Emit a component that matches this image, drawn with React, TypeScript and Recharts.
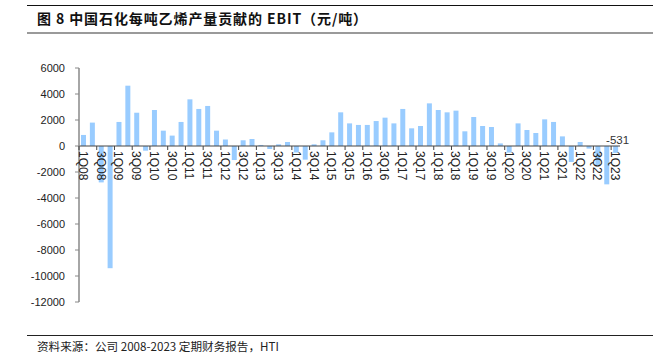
import React from "react";
import { BarChart, Bar, XAxis, YAxis, ReferenceLine, LabelList } from "recharts";

const quarters: string[] = [];
for (let y = 8; y <= 23; y++) {
  for (let q = 1; q <= 4; q++) {
    if (y === 23 && q > 1) break;
    quarters.push(`${q}Q${y < 10 ? "0" + y : y}`);
  }
}

const ebitValues = [
  850, 1800, -2800, -9400,
  1850, 4640, 2560, -360,
  2770, 1180, 800, 1850,
  3590, 2850, 3080, 1180,
  500, -1080, 440, 540,
  80, -230, 130, 310,
  -500, -1050, 130, 440,
  1050, 2590, 1740, 1620,
  1620, 1920, 2180, 1740,
  2850, 1360, 1540, 3280,
  2770, 2590, 2720, 1130,
  2230, 1540, 1460, 200,
  -510, 1740, 1230, 1000,
  2050, 1850, 740, -1230,
  310, -200, -1500, -2950,
  -531,
];

const yTicks = [6000, 4000, 2000, 0, -2000, -4000, -6000, -8000, -10000, -12000];

const data = quarters.map((q, i) => ({ q, v: ebitValues[i] }));

const W = 660;
const H = 358;
const X_AXIS_H = 20;
const M = { top: 68, right: 40, bottom: 56 - X_AXIS_H, left: 0 };
const Y_AXIS_W = 79;
const Y_MIN = -12000;
const Y_MAX = 6000;
const plotH = H - M.top - M.bottom - X_AXIS_H;
const plotW = W - M.left - M.right - Y_AXIS_W;
const band = plotW / data.length;
const yPx = (v: number) => M.top + (plotH * (Y_MAX - v)) / (Y_MAX - Y_MIN);
const zeroY = yPx(0);

const FONT = "'Liberation Sans', Arial, sans-serif";

const XTick = (props: any) => {
  const { x, payload } = props;
  return (
    <g>
      <line x1={x - band / 2} x2={x - band / 2} y1={zeroY} y2={zeroY + 4} stroke="#444" strokeWidth={1} />
      <text
        transform={`translate(${x - 0.5},${zeroY + 5}) rotate(90)`}
        textAnchor="start"
        dominantBaseline="central"
        fontSize={12}
        fontFamily={FONT}
        fill="#222"
      >
        {payload.value}
      </text>
    </g>
  );
};

const LastLabel = (props: any) => {
  const { x, width, index, value } = props;
  if (index !== data.length - 1) return null;
  return (
    <text
      x={Number(x) + Number(width) / 2 + 2}
      y={zeroY - 2}
      textAnchor="middle"
      fontSize={11.5}
      fontFamily={FONT}
      fill="#333"
    >
      {value}
    </text>
  );
};

export default function App() {
  return (
    <div
      style={{
        position: "absolute",
        left: 0,
        top: 0,
        width: W,
        height: H,
        background: "#fff",
        overflow: "hidden",
      }}
    >
      <div style={{ position: "absolute", left: 27, top: 5, width: 626, height: 1, background: "#111" }} />
      <div
        style={{
          position: "absolute",
          left: 37,
          top: 10,
          fontFamily: "'Noto Sans CJK SC', sans-serif",
          fontWeight: 700,
          fontSize: 14,
          letterSpacing: "0.9px",
          lineHeight: "17px",
          color: "#111",
          whiteSpace: "nowrap",
        }}
      >
        图 8 中国石化每吨乙烯产量贡献的 EBIT（元/吨）
      </div>
      <div style={{ position: "absolute", left: 27, top: 32, width: 626, height: 2, background: "#9a9a9a" }} />
      <div style={{ position: "absolute", left: 0, top: 0 }}>
        <BarChart width={W} height={H} data={data} margin={M} barSize={5}>
          <XAxis
            dataKey="q"
            type="category"
            height={X_AXIS_H}
            interval={1}
            axisLine={false}
            tickLine={false}
            tick={<XTick />}
          />
          <YAxis
            width={Y_AXIS_W}
            domain={[Y_MIN, Y_MAX]}
            ticks={yTicks}
            type="number"
            allowDataOverflow
            axisLine={{ stroke: "#888", strokeWidth: 1.5 }}
            tickLine={{ stroke: "#888" }}
            tickSize={4}
            tickMargin={10}
            tick={{ fontSize: 11, fontFamily: FONT, fill: "#222" }}
          />
          <Bar dataKey="v" fill="#99CCFF" isAnimationActive={false}>
            <LabelList dataKey="v" content={<LastLabel />} />
          </Bar>
          <ReferenceLine y={0} stroke="#444" strokeWidth={1} />
        </BarChart>
      </div>
      <div style={{ position: "absolute", left: 27, top: 335, width: 626, height: 1, background: "#222" }} />
      <div
        style={{
          position: "absolute",
          left: 37,
          top: 339,
          fontFamily: "'Noto Sans CJK SC', sans-serif",
          fontSize: 11.6,
          lineHeight: "14px",
          color: "#222",
          whiteSpace: "nowrap",
        }}
      >
        资料来源：公司 2008-2023 定期财务报告，HTI
      </div>
    </div>
  );
}
